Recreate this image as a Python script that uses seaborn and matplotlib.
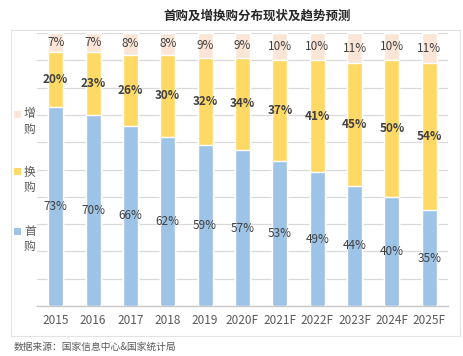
import matplotlib
matplotlib.use("Agg")
import matplotlib.pyplot as plt
import seaborn as sns
import pandas as pd
from matplotlib.patches import Rectangle

years = ["2015", "2016", "2017", "2018", "2019", "2020F", "2021F", "2022F", "2023F", "2024F", "2025F"]
first_buy = [73, 70, 66, 62, 59, 57, 53, 49, 44, 40, 35]      # 首购
replace_buy = [20, 23, 26, 30, 32, 34, 37, 41, 45, 50, 54]    # 换购
add_buy = [7, 7, 8, 8, 9, 9, 10, 10, 11, 10, 11]              # 增购

c_first = "#9DC3E6"
c_replace = "#FFD966"
c_add = "#FBE5D6"

sns.set_theme(style="white")
plt.rcParams['font.family'] = ['Noto Sans CJK SC', 'DejaVu Sans']

df = pd.DataFrame({
    "year": years,
    "first": first_buy,
    "replace": replace_buy,
    "add": add_buy,
})
df["top1"] = df["first"] + df["replace"]
df["top2"] = df["top1"] + df["add"]

fig = plt.figure(figsize=(4.63, 3.56), dpi=100)
# panel border
fig.patches.append(Rectangle((11 / 463, 1 - 336 / 356), (460 - 11) / 463, (336 - 30) / 356,
                             transform=fig.transFigure, fill=False, edgecolor="#E3E3E3", lw=0.8))
ax = fig.add_axes([37 / 463, 1 - 306 / 356, (448 - 37) / 463, (306 - 33) / 356])

sns.barplot(data=df, x="year", y="top2", color=c_add, width=0.4, ax=ax, saturation=1, zorder=3)
sns.barplot(data=df, x="year", y="top1", color=c_replace, width=0.4, ax=ax, saturation=1, zorder=3)
sns.barplot(data=df, x="year", y="first", color=c_first, width=0.4, ax=ax, saturation=1, zorder=3)

ax.set_ylim(0, 100)
ax.set_xlim(-0.5, len(years) - 0.5)
ax.set_yticks(range(0, 101, 10))
ax.set_yticklabels([])
ax.tick_params(axis="y", length=0)
ax.tick_params(axis="x", length=0, labelsize=8.5, labelcolor="#595959", pad=6)
ax.set_xlabel("")
ax.set_ylabel("")
ax.yaxis.grid(True, color="#D9D9D9", lw=0.9, zorder=0)
for s in ["top", "left", "right"]:
    ax.spines[s].set_visible(False)
ax.spines["bottom"].set_color("#C8C8C8")
ax.spines["bottom"].set_linewidth(1)

for i in range(len(years)):
    ax.text(i, first_buy[i] / 2, f"{first_buy[i]}%", ha="center", va="center",
            fontsize=8.5, color="#404040", zorder=5)
    ax.text(i, first_buy[i] + replace_buy[i] / 2, f"{replace_buy[i]}%", ha="center", va="center",
            fontsize=8.5, color="#404040", fontweight="bold", zorder=5)
    ax.text(i, first_buy[i] + replace_buy[i] + add_buy[i] / 2, f"{add_buy[i]}%", ha="center",
            va="center", fontsize=8.5, color="#404040", zorder=5)

fig.text(257 / 463, 1 - 16 / 356, "首购及增换购分布现状及趋势预测", ha="center", va="center",
         fontsize=9, fontweight="bold", color="#262626")

# legend (vertical, left)
legend_items = [(("增", "购"), c_add, 114), (("换", "购"), c_replace, 172), (("首", "购"), c_first, 231)]
for chars, col, y in legend_items:
    fig.patches.append(Rectangle((14 / 463, 1 - (y + 3.5) / 356), 6.5 / 463, 7 / 356,
                                 transform=fig.transFigure, facecolor=col, edgecolor="none"))
    for k, ch in enumerate(chars):
        fig.text(24 / 463, 1 - (y + 15 * k) / 356, ch, ha="left", va="center", fontsize=8.5,
                 color="#595959")

fig.text(14 / 463, 1 - 347 / 356, "数据来源：国家信息中心&国家统计局", ha="left", va="center",
         fontsize=7, color="#595959")

fig.savefig("out.png", dpi=100)
